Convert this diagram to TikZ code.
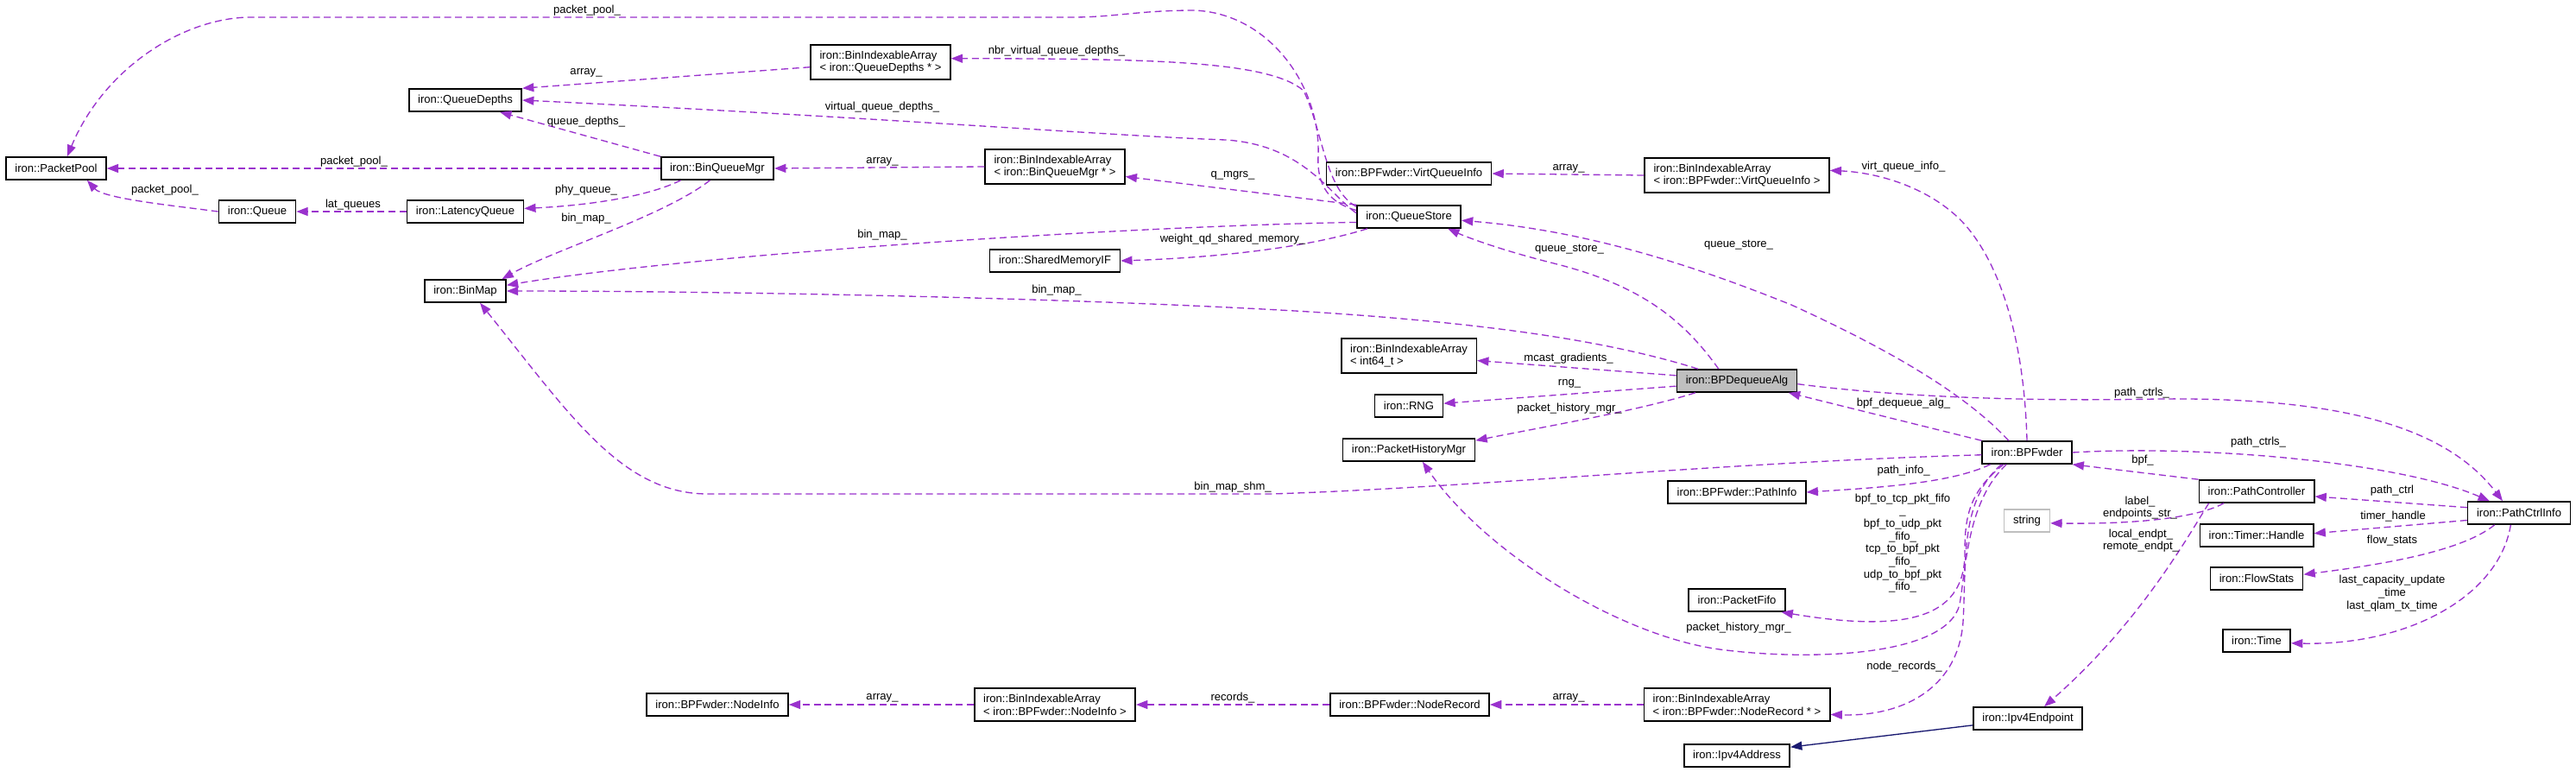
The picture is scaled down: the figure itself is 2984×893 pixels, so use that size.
\documentclass[tikz,border=0pt]{standalone}
\usepackage{fontspec}
\setmainfont{Liberation Sans}
\usetikzlibrary{arrows.meta}

\definecolor{orchid}{HTML}{9A32CD}
\definecolor{midblue}{HTML}{191970}
\definecolor{grey75}{HTML}{BFBFBF}

\begin{document}
\begin{tikzpicture}[x=0.75pt, y=-0.75pt,
    font=\fontsize{9.8}{11}\selectfont, >={Triangle[length=10pt,width=7.5pt]},
    cls/.style={draw, line width=1.2pt, fill=white, align=left,
      inner xsep=7.8pt, inner ysep=5pt, minimum height=19.5pt},
    focus/.style={cls, fill=grey75}, ext/.style={cls, draw=grey75},
    member/.style={->, draw=orchid, line width=1pt,
      dash pattern=on 6pt off 3.5pt},
    base/.style={->, draw=midblue, line width=1pt},
    lbl/.style={inner sep=0pt, align=center} ]

    \useasboundingbox (0,0) rectangle (2984,893);

    % classes
    \node[cls] (pp) at (65,195) {iron::PacketPool};
    \node[cls] (qd) at (539,116) {iron::QueueDepths};
    \node[cls] (biqd) at (1020,72) {iron::BinIndexableArray\\< iron::QueueDepths * >};
    \node[cls] (bqm) at (831,195) {iron::BinQueueMgr};
    \node[cls] (q) at (298,245) {iron::Queue};
    \node[cls] (lq) at (539,245) {iron::LatencyQueue};
    \node[cls] (bm) at (539,337) {iron::BinMap};
    \node[cls] (biqm) at (1222,193) {iron::BinIndexableArray\\< iron::BinQueueMgr * >};
    \node[cls] (smif) at (1222,302) {iron::SharedMemoryIF};
    \node[cls] (vqi) at (1632,201) {iron::BPFwder::VirtQueueInfo};
    \node[cls] (bivqi) at (2012,203) {iron::BinIndexableArray\\< iron::BPFwder::VirtQueueInfo >};
    \node[cls] (qs) at (1632,251) {iron::QueueStore};
    \node[cls] (bi64) at (1632,412) {iron::BinIndexableArray\\< int64\_t >};
    \node[focus] (bpda) at (2012,441) {iron::BPDequeueAlg};
    \node[cls] (rng) at (1632,470) {iron::RNG};
    \node[cls] (phm) at (1632,521) {iron::PacketHistoryMgr};
    \node[cls] (pinfo) at (2012,570) {iron::BPFwder::PathInfo};
    \node[cls] (pfifo) at (2012,695) {iron::PacketFifo};
    \node[cls] (nodeinfo) at (831,816) {iron::BPFwder::NodeInfo};
    \node[cls] (binodeinfo) at (1222,816) {iron::BinIndexableArray\\< iron::BPFwder::NodeInfo >};
    \node[cls] (noderec) at (1633,816) {iron::BPFwder::NodeRecord};
    \node[cls] (binoderec) at (2012,816) {iron::BinIndexableArray\\< iron::BPFwder::NodeRecord * >};
    \node[cls] (ipa) at (2012,875) {iron::Ipv4Address};
    \node[cls] (ipe) at (2349,832) {iron::Ipv4Endpoint};
    \node[cls] (bpf) at (2348,524) {iron::BPFwder};
    \node[ext] (str) at (2348,603) {string};
    \node[cls] (pc) at (2614,569) {iron::PathController};
    \node[cls] (th) at (2614,620) {iron::Timer::Handle};
    \node[cls] (fs) at (2614,670) {iron::FlowStats};
    \node[cls] (time) at (2614,742) {iron::Time};
    \node[cls] (pci) at (2918,594) {iron::PathCtrlInfo};

    % members
    \draw[member] (qs.173) .. controls (1540,235) and (1525,215) .. (1527,180)
      .. controls (1530,100) and (1470,15) .. (1383,12)
      .. controls (1320,12) and (1290,20) .. (1242,20) -- (287,20)
      .. controls (210,22) and (120,80) .. (pp.47);
    \draw[member] (qs.169) .. controls (1535,220) and (1532,150) .. (1510,105)
      .. controls (1470,70) and (1330,68) .. (biqd.3);
    \draw[member] (qs.176) .. controls (1540,225) and (1510,168) .. (1420,162)
      .. controls (1300,158) and (1000,135) .. (qd.east);
    \draw[member] (biqd.184) -- (qd.north east);
    \draw[member] (bqm.north west) -- (qd.-19);
    \draw[member] (bqm.west) -- (pp.east);
    \draw[member] (q.west) .. controls (200,238) and (120,230) .. (pp.-21);
    \draw[member] (lq.west) -- (q.east);
    \draw[member] (bqm.198) .. controls (750,228) and (680,238) .. (lq.3);
    \draw[member] (bqm.238) .. controls (770,250) and (640,290) .. (bm.18);
    \draw[member] (qs.186) .. controls (1300,262) and (800,295) .. (bm.8);
    \draw[member] (bpda.163) .. controls (1880,400) and (1750,375) .. (1500,360)
      .. controls (1200,343) and (800,337) .. (bm.east);
    \draw[member] (bpf.183) .. controls (2000,535) and (1700,565) .. (1472,572)
      -- (820,572) .. controls (720,572) and (660,480) .. (bm.-39);
    \draw[member] (bpda.147) .. controls (1950,370) and (1900,330) .. (1800,305)
      .. controls (1740,290) and (1700,275) .. (qs.-17);
    \draw[member] (bpf.147) .. controls (2280,460) and (2200,410) .. (2075,353)
      .. controls (1980,315) and (1850,268) .. (qs.-4);
    \draw[member] (bpf.north) .. controls (2345,400) and (2320,310) .. (2276,260)
      .. controls (2240,220) and (2180,200) .. (bivqi.3);
    \draw[member] (bivqi.west) -- (vqi.east);
    \draw[member] (qs.north west) -- (biqm.-8);
    \draw[member] (biqm.west) -- (bqm.east);
    \draw[member] (qs.196) .. controls (1520,285) and (1420,298) .. (smif.east);
    \draw[member] (bpda.175) -- (bi64.-4);
    \draw[member] (bpda.185) -- (rng.4);
    \draw[member] (bpda.196) .. controls (1900,475) and (1800,492) .. (phm.8);
    \draw[member] (bpf.north west) -- (bpda.-13);
    \draw[member] (bpda.-3) .. controls (2200,460) and (2350,465) .. (2500,462)
      .. controls (2700,460) and (2830,490) .. (pci.144);
    \draw[member] (bpf.east) .. controls (2550,515) and (2780,535) .. (pci.158);
    \draw[member] (pc.north west) -- (bpf.south east);
    \draw[member] (pci.174) -- (pc.-5);
    \draw[member] (pci.188) -- (th.2);
    \draw[member] (pci.206) .. controls (2850,640) and (2750,655) .. (fs.5);
    \draw[member] (pci.235) .. controls (2895,690) and (2790,748) .. (time.-4);
    \draw[member] (pc.200) .. controls (2540,602) and (2460,607) .. (str.-6);
    \draw[member] (pc.194) .. controls (2535,620) and (2480,720) .. (ipe.36);
    \draw[base] (ipe.187) -- (ipa.9);
    \draw[member] (bpf.198) .. controls (2260,560) and (2170,565) .. (pinfo.east);
    \draw[member] (bpf.207) .. controls (2280,570) and (2276,600) .. (2276,640)
      .. controls (2276,710) and (2220,735) .. (pfifo.-15);
    \draw[member] (bpf.210) .. controls (2280,580) and (2278,650) .. (2270,700)
      .. controls (2255,760) and (2100,765) .. (2000,753)
      .. controls (1880,740) and (1720,640) .. (phm.-41);
    \draw[member] (bpf.205) .. controls (2270,580) and (2278,650) .. (2274,720)
      .. controls (2268,800) and (2200,830) .. (binoderec.-6);
    \draw[member] (binoderec.west) -- (noderec.east);
    \draw[member] (noderec.west) -- (binodeinfo.east);
    \draw[member] (binodeinfo.west) -- (nodeinfo.east);

    % member names
    \node[lbl] (l1) at (680,12) {packet\_pool\_};
    \node[lbl] (l2) at (1224,59) {nbr\_virtual\_queue\_depths\_};
    \node[lbl] (l3) at (1022,124) {virtual\_queue\_depths\_};
    \node[lbl] (l4) at (679,84) {array\_};
    \node[lbl] (l5) at (679,141) {queue\_depths\_};
    \node[lbl] (l6) at (410,187) {packet\_pool\_};
    \node[lbl] (l7) at (191,220) {packet\_pool\_};
    \node[lbl] (l8) at (409,237) {lat\_queues};
    \node[lbl] (l9) at (679,220) {phy\_queue\_};
    \node[lbl] (l10) at (679,253) {bin\_map\_};
    \node[lbl] (l11) at (1022,272) {bin\_map\_};
    \node[lbl] (l12) at (1224,336) {bin\_map\_};
    \node[lbl] (l13) at (1428,564) {bin\_map\_shm\_};
    \node[lbl] (l14) at (1818,289) {queue\_store\_};
    \node[lbl] (l15) at (2014,284) {queue\_store\_};
    \node[lbl] (l16) at (2205,193) {virt\_queue\_info\_};
    \node[lbl] (l17) at (1817,195) {array\_};
    \node[lbl] (l18) at (1428,203) {q\_mgrs\_};
    \node[lbl] (l19) at (1022,187) {array\_};
    \node[lbl] (l20) at (1428,277) {weight\_qd\_shared\_memory\_};
    \node[lbl] (l21) at (1817,415) {mcast\_gradients\_};
    \node[lbl] (l22) at (1818,444) {rng\_};
    \node[lbl] (l23) at (1818,473) {packet\_history\_mgr\_};
    \node[lbl] (l24) at (2205,467) {bpf\_dequeue\_alg\_};
    \node[lbl] (l25) at (2481,455) {path\_ctrls\_};
    \node[lbl] (l26) at (2616,512) {path\_ctrls\_};
    \node[lbl] (l27) at (2482,533) {bpf\_};
    \node[lbl] (l28) at (2771,568) {path\_ctrl};
    \node[lbl] (l29) at (2772,598) {timer\_handle};
    \node[lbl] (l30) at (2771,626) {flow\_stats};
    \node[lbl] (l31) at (2771,687) {last\_capacity\_update\\\_time\\last\_qlam\_tx\_time};
    \node[lbl] (l32) at (2479,588) {label\_\\endpoints\_str\_};
    \node[lbl] (l33) at (2480,626) {local\_endpt\_\\remote\_endpt\_};
    \node[lbl] (l35) at (2205,545) {path\_info\_};
    \node[lbl] (l36) at (2204,629) {bpf\_to\_tcp\_pkt\_fifo\\\_\\bpf\_to\_udp\_pkt\\\_fifo\_\\tcp\_to\_bpf\_pkt\\\_fifo\_\\udp\_to\_bpf\_pkt\\\_fifo\_};
    \node[lbl] (l37) at (2014,727) {packet\_history\_mgr\_};
    \node[lbl] (l38) at (2206,772) {node\_records\_};
    \node[lbl] (l39) at (1817,808) {array\_};
    \node[lbl] (l40) at (1428,808) {records\_};
    \node[lbl] (l41) at (1022,808) {array\_};

  \end{tikzpicture}
\end{document}
